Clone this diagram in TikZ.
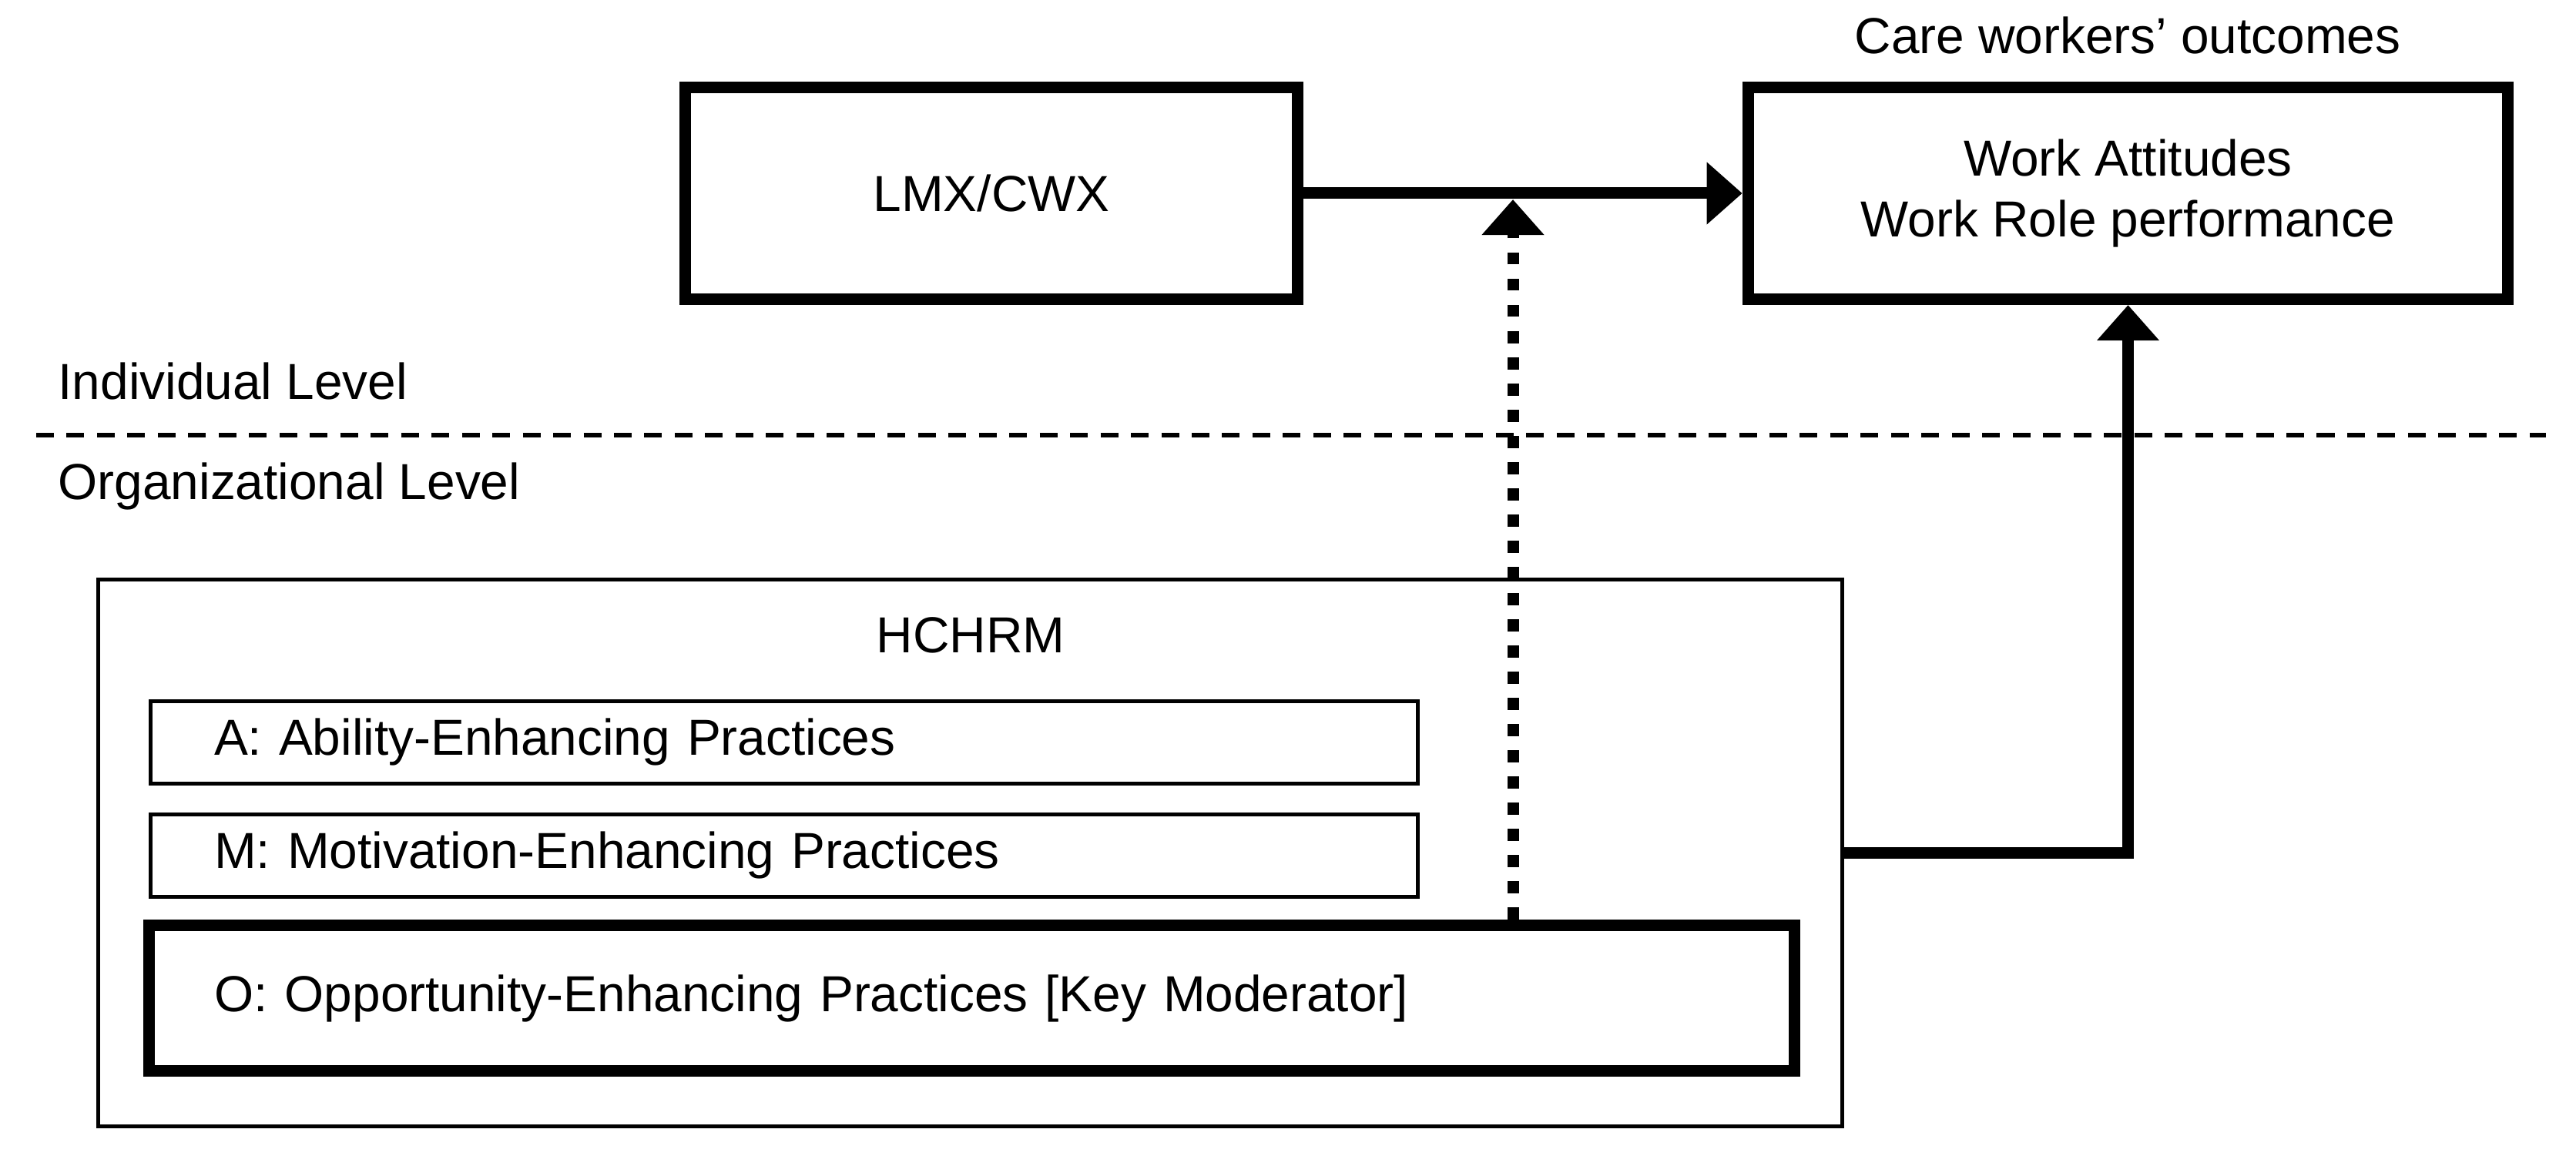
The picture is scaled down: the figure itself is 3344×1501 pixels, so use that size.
\documentclass[tikz,border=0pt]{standalone}
\usepackage{fontspec}
\setmainfont{Liberation Sans}
\usetikzlibrary{arrows.meta}
\frenchspacing
\begin{document}
\begin{tikzpicture}[x=0.01cm,y=-0.01cm,
  font=\fontsize{18.7}{22.5}\selectfont,
  thickbox/.style={draw, line width=0.15cm, inner sep=0pt},
  thinbox/.style={draw, line width=0.05cm, inner sep=0pt},
  practice/.style={thinbox, minimum height=1.07cm, text width=14.79cm, inner xsep=0.83cm, align=left},
  arr/.style={line width=0.15cm, -{Triangle[length=0.46cm,width=0.78cm]}},
  dotarr/.style={arr, dash pattern=on 0.155cm off 0.185cm},
  levelline/.style={line width=0.06cm, dash pattern=on 0.23cm off 0.1645cm},
  lbl/.style={inner sep=0pt}
]
\useasboundingbox (0,0) rectangle (3344,1501);

% top row
\node[thickbox, minimum width=7.95cm, minimum height=2.75cm] (lmx) at (1287,251) {LMX/CWX};
\node[thickbox, minimum width=9.86cm, minimum height=2.75cm, align=center] (out) at (2762.5,251) {Work Attitudes\\Work Role performance};
\node[lbl, anchor=base] (outlbl) at (2762,70) {Care workers’ outcomes};

% levels
\node[lbl, anchor=base west] (ind) at (75,519) {Individual Level};
\node[lbl, anchor=base west] (org) at (75,649) {Organizational Level};
\coordinate (lvlA) at (47,565);
\coordinate (lvlB) at (3305,565);
\draw[levelline] (lvlA) -- (lvlB);

% HCHRM
\node[thinbox, minimum width=22.62cm, minimum height=7.10cm] (hchrm) at (1259.5,1107.5) {};
\node[lbl] (hchrmlbl) at (1260,825) {HCHRM};
\node[practice] (A) at (1018,964) {A: Ability-Enhancing Practices};
\node[practice] (M) at (1018,1111) {M: Motivation-Enhancing Practices};
\node[thickbox, minimum width=21.34cm, minimum height=1.89cm, text width=19.65cm, inner xsep=0.845cm, align=left] (O) at (1261.5,1296) {O: Opportunity-Enhancing Practices [Key Moderator]};

% connectors
\draw[arr] (lmx.east) -- (out.west);
\coordinate (modtip) at (1964,259);
\draw[dotarr] (O.north -| modtip) -- (modtip);
\draw[arr] (hchrm.east) -| (out.south);
\end{tikzpicture}
\end{document}
